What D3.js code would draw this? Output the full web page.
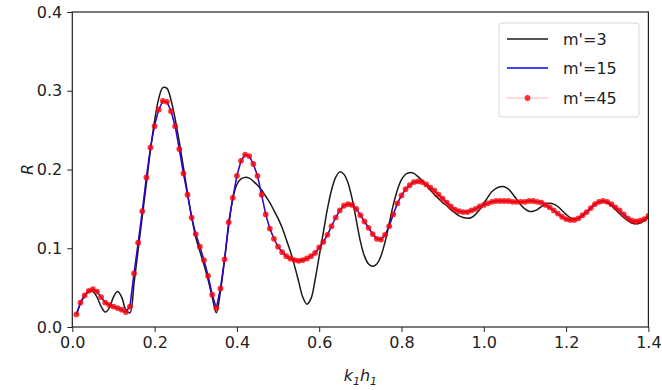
<!DOCTYPE html>
<html><head><meta charset="utf-8">
<script src="https://cdn.jsdelivr.net/npm/d3@7"></script>
<style>body{margin:0;background:#fff}svg{display:block}</style>
</head><body><svg id="c" width="662" height="390"></svg>
<script>
const kValues = [0.01,0.02,0.03,0.04,0.05,0.06,0.07,0.08,0.09,0.10,
0.11,0.12,0.13,0.14,0.15,0.16,0.17,0.18,0.19,0.20,
0.21,0.22,0.23,0.24,0.25,0.26,0.27,0.28,0.29,0.30,
0.31,0.32,0.33,0.34,0.35,0.36,0.37,0.38,0.39,0.40,
0.41,0.42,0.43,0.44,0.45,0.46,0.47,0.48,0.49,0.50,
0.51,0.52,0.53,0.54,0.55,0.56,0.57,0.58,0.59,0.60,
0.61,0.62,0.63,0.64,0.65,0.66,0.67,0.68,0.69,0.70,
0.71,0.72,0.73,0.74,0.75,0.76,0.77,0.78,0.79,0.80,
0.81,0.82,0.83,0.84,0.85,0.86,0.87,0.88,0.89,0.90,
0.91,0.92,0.93,0.94,0.95,0.96,0.97,0.98,0.99,1.00,
1.01,1.02,1.03,1.04,1.05,1.06,1.07,1.08,1.09,1.10,
1.11,1.12,1.13,1.14,1.15,1.16,1.17,1.18,1.19,1.20,
1.21,1.22,1.23,1.24,1.25,1.26,1.27,1.28,1.29,1.30,
1.31,1.32,1.33,1.34,1.35,1.36,1.37,1.38,1.39,1.40];

const m3 = [0.016,0.030,0.040,0.045,0.045,0.038,0.026,0.019,0.024,0.038,
0.045,0.038,0.022,0.018,0.055,0.098,0.140,0.182,0.225,0.262,
0.290,0.304,0.303,0.288,0.264,0.235,0.203,0.170,0.140,0.114,
0.096,0.079,0.060,0.038,0.018,0.045,0.085,0.128,0.163,0.181,
0.188,0.190,0.189,0.185,0.180,0.174,0.166,0.158,0.148,0.138,
0.126,0.111,0.096,0.078,0.058,0.038,0.029,0.036,0.060,0.090,
0.120,0.150,0.174,0.190,0.197,0.194,0.183,0.163,0.136,0.109,
0.090,0.080,0.077,0.080,0.090,0.108,0.131,0.155,0.174,0.187,
0.194,0.196,0.195,0.191,0.186,0.180,0.174,0.168,0.163,0.158,
0.154,0.149,0.145,0.141,0.139,0.138,0.139,0.143,0.149,0.157,
0.165,0.172,0.176,0.178,0.178,0.175,0.169,0.162,0.155,0.150,
0.147,0.147,0.149,0.153,0.156,0.157,0.156,0.153,0.148,0.143,
0.139,0.137,0.138,0.141,0.146,0.151,0.156,0.159,0.160,0.158,
0.154,0.149,0.144,0.139,0.135,0.132,0.131,0.132,0.135,0.139];

const m15 = [0.016,0.031,0.040,0.046,0.048,0.045,0.038,0.031,0.028,0.026,
0.024,0.022,0.019,0.026,0.068,0.107,0.147,0.190,0.228,0.256,
0.276,0.287,0.286,0.274,0.255,0.226,0.195,0.168,0.139,0.118,
0.102,0.085,0.065,0.041,0.024,0.049,0.086,0.133,0.164,0.192,
0.211,0.219,0.217,0.207,0.192,0.168,0.143,0.125,0.112,0.102,
0.095,0.090,0.087,0.085,0.084,0.085,0.087,0.090,0.094,0.101,
0.108,0.117,0.128,0.139,0.148,0.154,0.156,0.155,0.150,0.142,
0.134,0.126,0.118,0.112,0.111,0.117,0.128,0.143,0.157,0.167,
0.175,0.180,0.184,0.185,0.184,0.181,0.177,0.173,0.168,0.163,
0.158,0.153,0.149,0.147,0.146,0.146,0.148,0.150,0.153,0.155,
0.157,0.159,0.160,0.160,0.160,0.160,0.159,0.159,0.159,0.159,
0.160,0.160,0.159,0.158,0.155,0.152,0.148,0.144,0.140,0.137,
0.136,0.136,0.138,0.142,0.146,0.151,0.156,0.159,0.160,0.159,
0.156,0.152,0.148,0.143,0.138,0.135,0.134,0.135,0.137,0.141];

const m45 = [0.016,0.031,0.040,0.046,0.048,0.045,0.038,0.031,0.028,0.026,
0.024,0.022,0.019,0.026,0.068,0.107,0.147,0.190,0.228,0.255,
0.276,0.287,0.286,0.274,0.255,0.226,0.195,0.168,0.139,0.118,
0.102,0.085,0.065,0.041,0.024,0.049,0.086,0.133,0.164,0.192,
0.211,0.219,0.217,0.207,0.192,0.168,0.143,0.125,0.112,0.102,
0.095,0.090,0.087,0.085,0.084,0.085,0.087,0.090,0.094,0.101,
0.108,0.117,0.128,0.139,0.148,0.154,0.156,0.155,0.150,0.142,
0.134,0.126,0.118,0.112,0.111,0.117,0.128,0.143,0.157,0.167,
0.175,0.180,0.184,0.185,0.184,0.181,0.177,0.173,0.168,0.163,
0.158,0.153,0.149,0.147,0.146,0.146,0.148,0.150,0.153,0.155,
0.157,0.159,0.160,0.160,0.160,0.160,0.159,0.159,0.159,0.159,
0.160,0.160,0.159,0.158,0.155,0.152,0.148,0.144,0.140,0.137,
0.136,0.136,0.138,0.142,0.146,0.151,0.156,0.159,0.160,0.159,
0.156,0.152,0.148,0.143,0.138,0.135,0.134,0.135,0.137,0.141];

const xTicks = [0.0,0.2,0.4,0.6,0.8,1.0,1.2,1.4];
const yTicks = [0.0,0.1,0.2,0.3,0.4];
const seriesNames = ["m'=3","m'=15","m'=45"];

const svg = d3.select("#c");
const L = 72.3, R = 648.4, T = 12, B = 327;
const x = d3.scaleLinear().domain([0,1.4]).range([L,R]);
const y = d3.scaleLinear().domain([0,0.4]).range([B,T]);
const font = "DejaVu Sans, sans-serif";

const plot = svg.append("g");
svg.append("clipPath").attr("id","cp").append("rect")
  .attr("x",L).attr("y",T).attr("width",R-L).attr("height",B-T);
const g = plot.append("g").attr("clip-path","url(#cp)");

const pts = arr => arr.map((v,i)=>[kValues[i], v]);
const lineSmooth = d3.line().x(d=>x(d[0])).y(d=>y(d[1])).curve(d3.curveCatmullRom.alpha(0.5));
const lineLin = d3.line().x(d=>x(d[0])).y(d=>y(d[1]));

g.append("path").attr("d", lineSmooth(pts(m3))).attr("fill","none")
  .attr("stroke","#1a1a1a").attr("stroke-width",1.5);
g.append("path").attr("d", lineLin(pts(m15))).attr("fill","none")
  .attr("stroke","#0000ff").attr("stroke-width",1.5);
g.append("path").attr("d", lineLin(pts(m45))).attr("fill","none")
  .attr("stroke","#ff0000").attr("stroke-opacity",0.3).attr("stroke-width",1);
g.selectAll("circle.m").data(pts(m45)).enter().append("circle")
  .attr("cx",d=>x(d[0])).attr("cy",d=>y(d[1])).attr("r",2.9)
  .attr("fill","#ff0000").attr("fill-opacity",0.8);

// axes
const xAxis = d3.axisBottom(x).tickValues(xTicks).tickFormat(d3.format(".1f")).tickSize(5).tickPadding(5);
const yAxis = d3.axisLeft(y).tickValues(yTicks).tickFormat(d3.format(".1f")).tickSize(5).tickPadding(5);
const ax = svg.append("g").attr("transform",`translate(0,${B})`).call(xAxis);
const ay = svg.append("g").attr("transform",`translate(${L},0)`).call(yAxis);
[ax,ay].forEach(a=>{
  a.select(".domain").remove();
  a.selectAll(".tick line").attr("stroke","#222").attr("stroke-width",1);
  a.selectAll("text").attr("font-family",font).attr("font-size",16).attr("fill","#222");
});
svg.append("rect").attr("x",L).attr("y",T).attr("width",R-L).attr("height",B-T)
  .attr("fill","none").attr("stroke","#222").attr("stroke-width",1.2);

// labels
svg.append("text").attr("x",(L+R)/2).attr("y",381).attr("text-anchor","middle")
  .attr("font-family",font).attr("font-size",16).attr("fill","#222").attr("font-style","italic")
  .html('k<tspan font-size="11" dy="4">1</tspan><tspan dy="-4">h</tspan><tspan font-size="11" dy="4">1</tspan>');
svg.append("text").attr("transform",`translate(33,${(T+B)/2}) rotate(-90)`).attr("text-anchor","middle")
  .attr("font-family",font).attr("font-size",16).attr("fill","#222").attr("font-style","italic").text("R");

// legend
const lg = svg.append("g");
lg.append("rect").attr("x",499).attr("y",23).attr("width",140).attr("height",94).attr("rx",3)
  .attr("fill","#fff").attr("fill-opacity",0.8).attr("stroke","#d6d6d6").attr("stroke-width",1);
const rows = [39,68,98];
const styles = [
  {stroke:"#1a1a1a",op:1,w:1.5,marker:false},
  {stroke:"#0000ff",op:1,w:1.5,marker:false},
  {stroke:"#ff0000",op:0.3,w:1,marker:true}];
seriesNames.forEach((n,i)=>{
  lg.append("line").attr("x1",507).attr("x2",548).attr("y1",rows[i]).attr("y2",rows[i])
    .attr("stroke",styles[i].stroke).attr("stroke-opacity",styles[i].op).attr("stroke-width",styles[i].w);
  if(styles[i].marker) lg.append("circle").attr("cx",527.5).attr("cy",rows[i]).attr("r",2.9)
    .attr("fill","#ff0000").attr("fill-opacity",0.8);
  lg.append("text").attr("x",563).attr("y",rows[i]).attr("dy","0.35em")
    .attr("font-family",font).attr("font-size",16).attr("fill","#222").text(n);
});
</script></body></html>
